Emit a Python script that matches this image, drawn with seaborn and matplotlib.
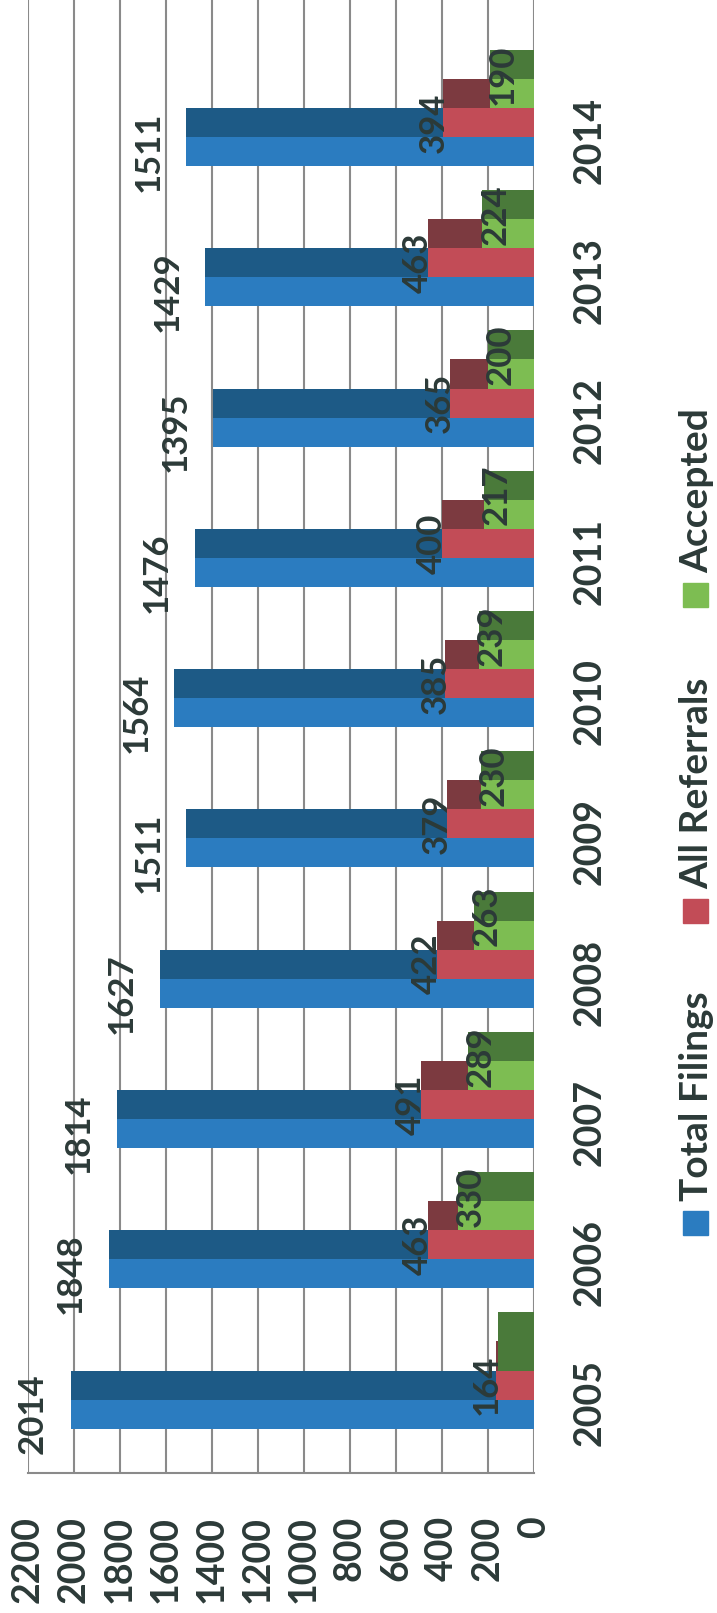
import numpy as np
import pandas as pd
import matplotlib
matplotlib.use('Agg')
import matplotlib.pyplot as plt
import seaborn as sns
from matplotlib.patches import Rectangle

# chart data
years = ['2005', '2006', '2007', '2008', '2009', '2010', '2011', '2012', '2013', '2014']
total_filings = [2014, 1848, 1814, 1627, 1511, 1564, 1476, 1395, 1429, 1511]
all_referrals = [164, 463, 491, 422, 379, 385, 400, 365, 463, 394]
accepted = [155, 330, 289, 263, 230, 239, 217, 200, 224, 190]
value_ticks = [0, 200, 400, 600, 800, 1000, 1200, 1400, 1600, 1800, 2000, 2200]
series_names = ['Total Filings', 'All Referrals', 'Accepted']

# colours (light face, dark depth side)
BLUE, BLUE_DK = '#2b7cc0', '#1d5a86'
RED, RED_DK = '#c24c57', '#7c3a40'
GREEN, GREEN_DK = '#7dbd52', '#4a7a3a'
TEXT = '#2c3a38'
GRID = '#8a8a8a'

W, H = 717, 1613
sns.set_style('white')
plt.rcParams['font.family'] = ['Lato', 'DejaVu Sans']
plt.rcParams['font.weight'] = 'bold'

df = pd.DataFrame({'year': years, 'pos': np.arange(len(years)),
                   'total': total_filings, 'refer': all_referrals, 'acc': accepted})

fig = plt.figure(figsize=(W / 100, H / 100), dpi=100)
ax = fig.add_axes([28 / W, (H - 1473) / H, (534 - 28) / W, 1473 / H])

STEP = 0.207
BASE = -0.08

# the whole chart is turned a quarter turn, so the columns run sideways
layers = [('total', 1, BLUE_DK), ('total', 0, BLUE),
          ('refer', 2, RED_DK), ('refer', 1, RED),
          ('acc', 3, GREEN_DK)]
for col, k, c in layers:
    sns.barplot(x=df[col], y=df['pos'] + BASE + k * STEP, orient='h', native_scale=True,
                width=STEP, color=c, saturation=1, errorbar=None, linewidth=0, ax=ax)
# front face of the 2005 accepted bar is dark in the scan
green_faces = {y: (GREEN_DK if y == '2005' else GREEN) for y in years}
sns.barplot(x=df['acc'], y=df['pos'] + BASE + 2 * STEP, hue=df['year'], palette=green_faces,
            orient='h', native_scale=True, width=STEP, saturation=1, errorbar=None,
            linewidth=0, dodge=False, legend=False, ax=ax)

# value labels
for i, row in df.iterrows():
    ax.text(row['total'] + 165, i + BASE, str(row['total']), rotation=90,
            ha='center', va='center', fontsize=25, color=TEXT)
    ax.text(row['refer'] + 43, i + BASE + STEP, str(row['refer']), rotation=90,
            ha='center', va='center', fontsize=25, color=TEXT)
    if row['year'] != '2005':  # hidden behind the bar in the original
        ax.text(row['acc'] - 55, i + 0.47, str(row['acc']), rotation=90,
                ha='center', va='center', fontsize=25, color=TEXT)

ax.set_xlim(2200, 0)
ax.set_ylim(-0.5, 10.0)
ax.set_xticks(value_ticks)
ax.set_xticklabels([str(v) for v in value_ticks], rotation=90, fontsize=27, color=TEXT)
ax.yaxis.tick_right()
ax.set_yticks(range(len(years)))
ax.set_yticklabels(years, rotation=90, va='center', fontsize=27, color=TEXT)
ax.tick_params(axis='x', length=0, pad=31)
ax.tick_params(axis='y', length=0, pad=28)
ax.set_xlabel('')
ax.set_ylabel('')
ax.grid(axis='x', color=GRID, lw=1.5)
ax.set_axisbelow(True)
for s in ['top', 'left', 'right']:
    ax.spines[s].set_visible(False)
ax.spines['bottom'].set_color(GRID)
ax.spines['bottom'].set_linewidth(1.5)

# legend, stacked and turned like the chart
legend_rows = [(series_names[0], BLUE, 1235), (series_names[1], RED, 923), (series_names[2], GREEN, 607)]
for name, c, ybot in legend_rows:
    fig.patches.append(Rectangle((683 / W, (H - ybot) / H), 25 / W, 24 / H,
                                 transform=fig.transFigure, color=c))
    fig.text(697 / W, (H - ybot + 34) / H, name, rotation=90, ha='center', va='bottom',
             fontsize=28, color=TEXT)

fig.savefig('out.png', dpi=100)
